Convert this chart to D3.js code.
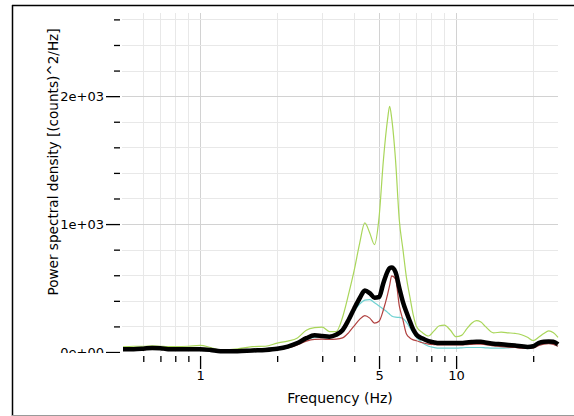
<!DOCTYPE html>
<html>
<head>
<meta charset="utf-8">
<script src="https://cdn.jsdelivr.net/npm/d3@7"></script>
<style>
  body { margin: 0; background: #fff; }
  text { font-family: "DejaVu Sans", sans-serif; fill: #000; }
</style>
</head>
<body>
<script>
// frequencies (Hz) shared by all curves
var freqs = [0.5,0.55,0.6,0.65,0.7,0.75,0.8,0.9,
  1.0,1.1,1.2,1.4,1.6,1.8,
  2.0,2.2,2.4,2.6,2.8,
  3.0,3.2,3.4,3.6,3.8,
  4.0,4.2,4.4,4.6,4.8,
  5.0,5.2,5.4,5.5,5.6,5.8,
  6.0,6.2,6.4,6.6,6.8,
  7.0,7.4,7.8,8.2,8.6,9.0,9.5,
  10,10.5,11,11.5,12,12.5,13,
  14,15,16,17,18,19,
  20,21,22,23,24,25]

var green = [40,45,45,48,45,42,42,45,
  52,35,15,25,42,45,
  70,85,110,170,190,
  195,160,160,270,450,
  640,850,1010,930,840,
  1050,1500,1820,1920,1830,1500,
  1030,800,580,430,290,
  200,150,125,165,205,210,170,
  120,130,180,225,245,235,200,
  150,155,150,145,135,115,
  90,115,145,165,150,115]

var cyan = [15,15,20,25,22,15,15,15,
  15,10,3,3,8,12,
  18,35,60,95,115,
  115,110,130,170,240,
  320,375,405,410,385,
  360,335,310,295,282,272,
  270,262,232,190,150,
  115,70,45,35,30,30,30,
  30,32,35,35,35,35,33,
  30,30,32,35,35,35,
  40,55,65,68,62,45]

var red = [15,15,18,22,20,15,15,15,
  15,10,3,3,8,10,
  18,32,55,85,98,
  100,98,100,110,150,
  205,255,285,265,225,
  240,330,450,520,595,570,
  360,250,140,110,95,
  88,72,62,58,55,55,55,
  55,55,58,60,62,62,58,
  48,42,38,35,30,28,
  32,50,62,65,60,45]

var black = [22,22,26,32,30,22,22,22,
  22,16,6,6,12,16,
  25,42,70,108,130,
  125,120,135,170,250,
  340,420,480,460,425,
  430,540,630,655,660,625,
  500,390,310,240,175,
  135,105,85,75,70,70,70,
  70,70,75,78,80,80,75,
  65,60,55,50,45,40,
  45,70,80,82,80,60]

var xMinor = [0.6,0.7,0.8,0.9,2,3,4,6,7,8,9,20]
var xMajor = [1,5,10]
var yMinor = d3.range(200, 2700, 200).filter(function(v){ return v % 1000 != 0 })
var yMajor = [0, 1000, 2000]
var yFormat = function(v){ return v == 0 ? "0e+00" : (v/1000) + "e+03" }

var width = 574, height = 416
var plot = { left: 123, right: 558, top: 13, bottom: 352 }

var svg = d3.select("body").append("svg")
  .attr("width", width).attr("height", height)

var x = d3.scaleLog().domain([0.5, 25]).range([plot.left, plot.right])
var y = d3.scaleLinear().domain([0, 2650]).range([plot.bottom, plot.top])

// frame
svg.append("line").attr("x1", 12.5).attr("x2", 12.5).attr("y1", 5).attr("y2", 416)
  .attr("stroke", "#000").attr("stroke-width", 1.5)
svg.append("line").attr("x1", 12).attr("x2", 574).attr("y1", 5.5).attr("y2", 5.5)
  .attr("stroke", "#000").attr("stroke-width", 1.5)
svg.append("line").attr("x1", 12).attr("x2", 574).attr("y1", 415.5).attr("y2", 415.5)
  .attr("stroke", "#9a9a9a").attr("stroke-width", 1)

// grid
var grid = svg.append("g")
grid.selectAll(".vg").data(xMinor.concat(xMajor)).enter().append("line")
  .attr("x1", function(d){ return Math.round(x(d)) + 0.5 })
  .attr("x2", function(d){ return Math.round(x(d)) + 0.5 })
  .attr("y1", plot.top).attr("y2", plot.bottom)
  .attr("stroke", function(d){ return xMajor.indexOf(d) >= 0 ? "#d2d2d2" : "#e8e8e8" })
grid.selectAll(".hg").data(yMinor.concat([1000, 2000])).enter().append("line")
  .attr("x1", plot.left - 1).attr("x2", plot.right)
  .attr("y1", function(d){ return Math.round(y(d)) + 0.5 })
  .attr("y2", function(d){ return Math.round(y(d)) + 0.5 })
  .attr("stroke", function(d){ return d % 1000 == 0 ? "#d2d2d2" : "#e8e8e8" })

// y axis (ticks only); the 0e+00 label is cut at the plot bottom like the original
var yAxisMinor = d3.axisLeft(y).tickValues(yMinor).tickSize(6).tickFormat("")
var yAxisMajor = d3.axisLeft(y).tickValues(yMajor).tickSize(14).tickPadding(2).tickFormat(yFormat)

svg.append("defs").append("clipPath").attr("id", "yclip")
  .append("rect").attr("x", -120).attr("y", 0).attr("width", 130).attr("height", 353)

var gy = svg.append("g").attr("transform", "translate(120,0)").attr("clip-path", "url(#yclip)")
gy.append("g").call(yAxisMinor)
gy.append("g").call(yAxisMajor)
gy.selectAll(".domain").remove()
gy.selectAll("line").attr("stroke", "#000").attr("stroke-width", 1.3)
gy.selectAll("text").style("font-size", "13px").attr("font-family", null)

// x axis (ticks only)
var xAxisMinor = d3.axisBottom(x).tickValues(xMinor).tickSize(6).tickFormat("")
var xAxisMajor = d3.axisBottom(x).tickValues(xMajor).tickSize(13).tickPadding(2).tickFormat(d3.format("d"))
var gx = svg.append("g").attr("transform", "translate(0,356)")
gx.append("g").call(xAxisMinor)
gx.append("g").call(xAxisMajor)
gx.selectAll(".domain").remove()
gx.selectAll("line").attr("stroke", "#000").attr("stroke-width", 1.3)
gx.selectAll("text").style("font-size", "13px").attr("font-family", null)

// axis titles
svg.append("text")
  .attr("x", 340).attr("y", 403)
  .attr("text-anchor", "middle")
  .style("font-size", "14px")
  .text("Frequency (Hz)")

svg.append("text")
  .attr("transform", "translate(58,162) rotate(-90)")
  .attr("text-anchor", "middle")
  .style("font-size", "13.6px")
  .text("Power spectral density [(counts)^2/Hz]")

// curves
var line = function(vals) {
  return d3.line()
    .curve(d3.curveMonotoneX)
    .x(function(d, i){ return x(freqs[i]) })
    .y(function(d){ return y(d) })(vals)
}

var series = [
  { vals: green, color: "#a9d65a", w: 1.2 },
  { vals: cyan,  color: "#6fd2d2", w: 1.2 },
  { vals: red,   color: "#b0403f", w: 1.2 },
  { vals: black, color: "#000000", w: 4.5 }
]

svg.append("g").selectAll("path").data(series).enter().append("path")
  .attr("d", function(s){ return line(s.vals) })
  .attr("fill", "none")
  .attr("stroke", function(s){ return s.color })
  .attr("stroke-width", function(s){ return s.w })
  .attr("stroke-linejoin", "round")
</script>
</body>
</html>
